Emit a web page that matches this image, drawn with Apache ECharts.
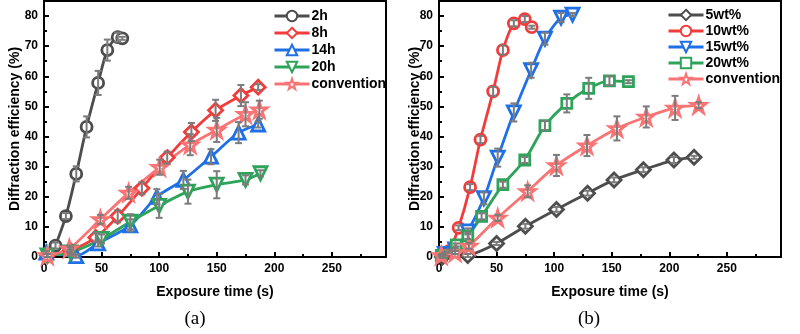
<!DOCTYPE html>
<html>
<head>
<meta charset="utf-8">
<script src="https://cdn.jsdelivr.net/npm/echarts@6/dist/echarts.min.js"></script>
<style>
  html, body { margin: 0; padding: 0; background: #fff; }
  #chart { width: 800px; height: 334px; }
</style>
</head>
<body>
<div id="chart"></div>
<script>
// ---- Panel (a): curing time series ----
const namesA = ['2h', '8h', '14h', '20h', 'convention'];
const t2h = [10, 19, 28, 37, 47, 55, 64, 68];
const d2h = [3.8, 13.6, 27.6, 43.2, 57.8, 68.7, 73.0, 72.6];
const e2h = [1, 1, 2.5, 3.5, 4, 3.5, 1.5, 0.5];

const t8h = [3, 23, 45, 64, 85, 107, 128, 149, 171, 186];
const d8h = [0.5, 2.2, 6.5, 13.5, 22.8, 33.0, 41.5, 48.7, 53.6, 56.4];
const e8h = [0.5, 1, 1.5, 2, 2, 2, 3, 3.5, 3.5, 1];

const t14h = [2, 28, 47, 75, 98, 121, 145, 169, 186];
const d14h = [1.5, 0.3, 4.5, 10.5, 20, 25.6, 33.3, 41.3, 44];
const e14h = [0.5, 0.5, 1, 2, 2.5, 3, 2.5, 3.5, 1];

const t20h = [3, 23, 50, 75, 100, 125, 150, 175, 188];
const d20h = [0.5, 1.5, 6, 11.7, 17, 21.7, 24, 25.6, 27.8];
const e20h = [0.5, 1, 1.5, 2.5, 4, 4, 4.5, 1.5, 1];

const tConvA = [3, 22, 49, 73.5, 100.5, 127, 150, 175, 187];
const dConvA = [0.5, 2.8, 12.5, 21.3, 29.8, 37.3, 42.2, 47.4, 48.9];
const eConvA = [0.5, 1, 1.5, 2, 2.5, 3.5, 4, 4, 3];

// ---- Panel (b): concentration series ----
const namesB = ['5wt%', '10wt%', '15wt%', '20wt%', 'convention'];
const t5 = [3, 25, 50, 75, 102, 129, 152, 177.5, 204, 221.5];
const d5 = [0, 0.5, 4.5, 10.2, 15.8, 21.2, 25.6, 29, 32.2, 33.1];
const e5 = [0.3, 0.5, 0.5, 0.8, 0.8, 0.8, 0.8, 0.8, 1, 0.5];

const t10 = [3, 9, 17, 27, 36, 47, 55.5, 65, 74.5, 80.5];
const d10 = [0.8, 2, 9.7, 23.2, 39, 55, 68.7, 77.6, 79, 76.3];
const e10 = [0.3, 0.5, 0.8, 1, 1.2, 1.5, 1.5, 1, 1, 0.5];

const t15 = [5, 14, 25, 39, 51, 65, 80, 92, 106, 116];
const d15 = [1, 2.5, 8.5, 19.5, 33, 48, 62, 72.5, 79.5, 80.5];
const e15 = [0.5, 0.5, 1, 2, 3, 3, 2.5, 2, 1.5, 0.5];

const t20 = [2, 15, 25, 37, 55.5, 74.5, 92, 111, 130, 148, 164.5];
const d20 = [0.5, 4, 7, 13.5, 24, 32.2, 43.6, 51, 56, 58.5, 58.2];
const e20 = [0.3, 0.5, 1, 1, 1, 1, 1.5, 3, 3.5, 1.5, 0.5];

const tConvB = [2, 14, 26, 51, 77, 102, 128.5, 154.5, 180, 205, 225.5];
const dConvB = [0.5, 1.5, 3.7, 13, 21.8, 30.4, 37, 42.7, 46.5, 49.5, 50.4];
const eConvB = [0.3, 0.5, 1, 1, 2, 3.5, 3.5, 4, 3.5, 4, 1];

// ---- styling ----
const GRAY = '#4d4d4d', RED = '#f23c3c', BLUE = '#1f6fe6', GREEN = '#2ea35a', SALMON = '#f97474';
const ERR = '#7c7c7c';
const STAR = 'path://M50,2 L61.8,36.3 L98,36.3 L68.8,57.6 L79.9,92 L50,70.8 L20.1,92 L31.2,57.6 L2,36.3 L38.2,36.3 Z';
const FONT = '"Liberation Sans", Arial, sans-serif';

const zip = (t, d) => t.map((x, i) => [x, d[i]]);
const errData = (t, d, e) => t.map((x, i) => [x, d[i] - e[i], d[i] + e[i]]);

function lineSeries(name, t, d, color, symbol, size, idx, rotate) {
  return {
    type: 'line', name: name, data: zip(t, d),
    xAxisIndex: idx, yAxisIndex: idx,
    symbol: symbol, symbolSize: size, symbolRotate: rotate || 0,
    smooth: 0.25,
    lineStyle: { color: color, width: 2.8 },
    itemStyle: { color: '#fff', borderColor: color, borderWidth: 2.8 },
    z: 3, animation: false
  };
}

function renderErr(params, api) {
  const x = api.value(0);
  const lo = api.coord([x, api.value(1)]);
  const hi = api.coord([x, api.value(2)]);
  const hw = 3.5;
  const st = { stroke: ERR, lineWidth: 2 };
  return {
    type: 'group',
    children: [
      { type: 'line', shape: { x1: lo[0], y1: lo[1], x2: hi[0], y2: hi[1] }, style: st },
      { type: 'line', shape: { x1: lo[0] - hw, y1: lo[1], x2: lo[0] + hw, y2: lo[1] }, style: st },
      { type: 'line', shape: { x1: hi[0] - hw, y1: hi[1], x2: hi[0] + hw, y2: hi[1] }, style: st }
    ]
  };
}

function errSeries(t, d, e, idx) {
  return {
    type: 'custom', data: errData(t, d, e),
    xAxisIndex: idx, yAxisIndex: idx,
    encode: { x: 0, y: [1, 2] },
    renderItem: renderErr, z: 5, silent: true, animation: false
  };
}

function xAxis(idx) {
  return {
    type: 'value', gridIndex: idx, min: 0, max: 297, interval: 50,
    axisLine: { lineStyle: { color: '#000', width: 2 } },
    axisTick: { inside: true, length: 5, lineStyle: { color: '#000', width: 2 } },
    minorTick: { show: true, splitNumber: 2, length: 3, lineStyle: { color: '#000', width: 2 } },
    splitLine: { show: false },
    axisLabel: {
      margin: 6, color: '#000', fontFamily: FONT, fontWeight: 'bold', fontSize: 12,
      formatter: v => (v % 50 === 0 ? String(v) : '')
    }
  };
}

function yAxis(idx) {
  return {
    type: 'value', gridIndex: idx, min: 0, max: 85, interval: 10,
    axisLine: { lineStyle: { color: '#000', width: 2 } },
    axisTick: { inside: true, length: 5, lineStyle: { color: '#000', width: 2 } },
    minorTick: { show: true, splitNumber: 2, length: 3, lineStyle: { color: '#000', width: 2 } },
    splitLine: { show: false },
    axisLabel: {
      margin: 6, color: '#000', fontFamily: FONT, fontWeight: 'bold', fontSize: 12,
      formatter: v => (v % 10 === 0 ? String(v) : '')
    }
  };
}

function legend(names, left, top, gap) {
  return {
    data: names, orient: 'vertical', left: left, top: top,
    itemWidth: 35, itemHeight: 13, itemGap: gap,
    lineStyle: { width: 3 },
    textStyle: { color: '#000', fontFamily: FONT, fontWeight: 'bold', fontSize: 14, padding: [0, 0, 0, -3] },
    selectedMode: false
  };
}

const series = [
  lineSeries('2h', t2h, d2h, GRAY, 'circle', 11, 0),
  lineSeries('8h', t8h, d8h, RED, 'diamond', 14, 0),
  lineSeries('14h', t14h, d14h, BLUE, 'triangle', 13, 0),
  lineSeries('20h', t20h, d20h, GREEN, 'triangle', 13, 0, 180),
  lineSeries('convention', tConvA, dConvA, SALMON, STAR, 15, 0),
  errSeries(t2h, d2h, e2h, 0),
  errSeries(t8h, d8h, e8h, 0),
  errSeries(t14h, d14h, e14h, 0),
  errSeries(t20h, d20h, e20h, 0),
  errSeries(tConvA, dConvA, eConvA, 0),

  lineSeries('5wt%', t5, d5, GRAY, 'diamond', 14, 1),
  lineSeries('10wt%', t10, d10, RED, 'circle', 11, 1),
  lineSeries('15wt%', t15, d15, BLUE, 'triangle', 13, 1, 180),
  lineSeries('20wt%', t20, d20, GREEN, 'rect', 10, 1),
  lineSeries('convention', tConvB, dConvB, SALMON, STAR, 15, 1),
  errSeries(t5, d5, e5, 1),
  errSeries(t10, d10, e10, 1),
  errSeries(t15, d15, e15, 1),
  errSeries(t20, d20, e20, 1),
  errSeries(tConvB, dConvB, eConvB, 1)
];

const option = {
  backgroundColor: '#fff',
  animation: false,
  grid: [
    { left: 44, top: 1, width: 342, height: 256, show: true, borderColor: '#000', borderWidth: 2 },
    { left: 439, top: 1, width: 342, height: 256, show: true, borderColor: '#000', borderWidth: 2 }
  ],
  xAxis: [xAxis(0), xAxis(1)],
  yAxis: [yAxis(0), yAxis(1)],
  legend: [legend(namesA, 268, 4, 3), legend(namesB, 662, 3, 2)],
  series: series,
  graphic: [
    { type: 'text', x: 15, y: 129, rotation: Math.PI / 2,
      style: { text: 'Diffraction efficiency (%)', font: 'bold 14px ' + FONT, fill: '#000', textAlign: 'center', textVerticalAlign: 'middle' } },
    { type: 'text', x: 415, y: 129, rotation: Math.PI / 2,
      style: { text: 'Diffraction efficiency (%)', font: 'bold 14px ' + FONT, fill: '#000', textAlign: 'center', textVerticalAlign: 'middle' } },
    { type: 'text', x: 215, y: 292,
      style: { text: 'Exposure time (s)', font: 'bold 14px ' + FONT, fill: '#000', textAlign: 'center', textVerticalAlign: 'middle' } },
    { type: 'text', x: 610, y: 292,
      style: { text: 'Exposure time (s)', font: 'bold 14px ' + FONT, fill: '#000', textAlign: 'center', textVerticalAlign: 'middle' } },
    { type: 'text', x: 195, y: 319,
      style: { text: '(a)', font: '19px "Liberation Serif", "DejaVu Serif", serif', fill: '#000', textAlign: 'center', textVerticalAlign: 'middle' } },
    { type: 'text', x: 589, y: 319,
      style: { text: '(b)', font: '19px "Liberation Serif", "DejaVu Serif", serif', fill: '#000', textAlign: 'center', textVerticalAlign: 'middle' } }
  ]
};

const chart = echarts.init(document.getElementById('chart'), null, { renderer: 'canvas' });
chart.setOption(option);
</script>
</body>
</html>
